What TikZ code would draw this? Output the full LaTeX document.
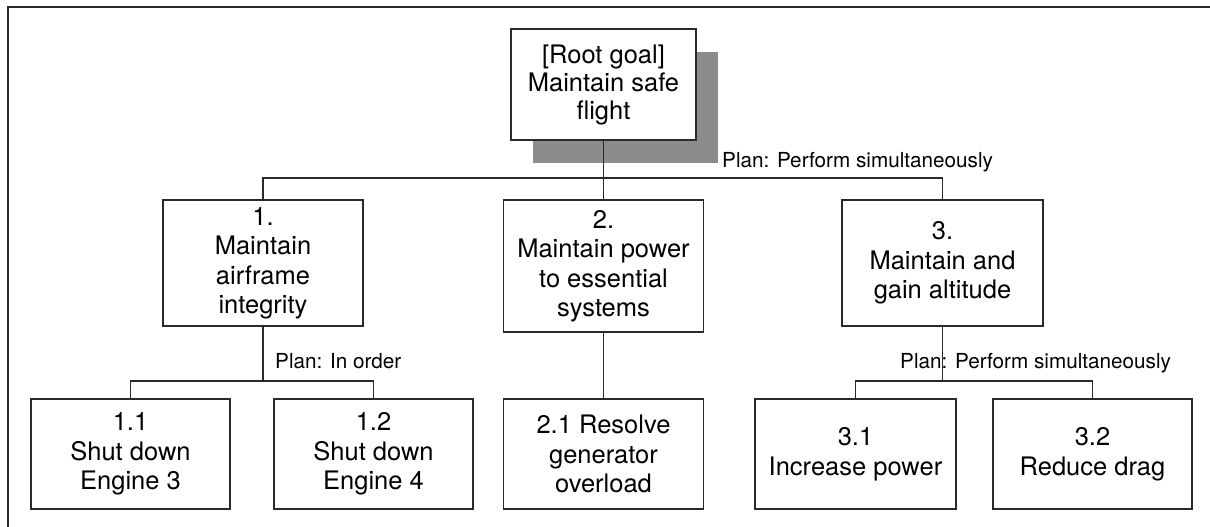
\documentclass[tikz,border=0pt]{standalone}
\usepackage{fontspec}
\setmainfont{TeX Gyre Heros}
\usetikzlibrary{shadows}
\definecolor{shade}{HTML}{8C8C8C}
\definecolor{ink}{HTML}{2A2A2A}
\begin{document}
\begin{tikzpicture}[x=1pt,y=-1pt,
  goal/.style={draw=ink, line width=1.2pt, fill=white, minimum width=200pt,
    minimum height=110pt, align=center, inner sep=2pt,
    font=\fontsize{25.5}{29.5}\selectfont},
  plan/.style={font=\fontsize{20.7}{24}\selectfont, inner sep=0pt, anchor=base west},
  link/.style={draw=ink, line width=1.2pt}]
\useasboundingbox (0,0) rectangle (1210,527);
% frame (only top and left edges visible)
\draw[line width=2.8pt, ink] (8,527) -- (8,7) -- (1210,7);

% root goal with shadow
\node[goal, minimum width=185pt, minimum height=111pt,
  font=\fontsize{25.5}{28}\selectfont,
  drop shadow={shadow xshift=22pt, shadow yshift=-23pt, fill=shade, opacity=1}]
  (root) at (603.5,84.5) {[Root goal]\\Maintain safe\\flight};

% level 1
\node[goal, minimum height=126pt] (g1) at (263,263) {1.\\Maintain\\airframe\\integrity};
\node[goal, minimum height=132pt] (g2) at (603.5,266) {2.\\Maintain power\\to essential\\systems};
\node[goal, minimum width=201pt, minimum height=126pt] (g3) at (942.5,263) {3.\\Maintain and\\gain altitude};

% level 2
\node[goal, minimum width=199pt] (g11) at (130.5,454) {1.1\\Shut down\\Engine 3};
\node[goal, minimum width=199pt] (g12) at (373.5,454) {1.2\\Shut down\\Engine 4};
\node[goal] (g21) at (603.5,454) {2.1 Resolve\\generator\\overload};
\node[goal, minimum width=201pt] (g31) at (855.5,454) {3.1\\Increase power};
\node[goal, minimum width=199pt] (g32) at (1092.5,454) {3.2\\Reduce drag};

% plan labels
\node[plan] (p0) at (722,167) {Plan: Perform simultaneously};
\node[plan] (p1) at (275,368) {Plan: In order};
\node[plan] (p3) at (900,368) {Plan: Perform simultaneously};

% junctions
\coordinate (j0) at (603.5,178);
\coordinate (j1) at (263,381);
\coordinate (j3) at (942.5,381);

% connectors
\draw[link] (root.south) -- (g2.north);
\draw[link] (g1.north) |- (j0) -| (g3.north);
\draw[link] (g1.south) -- (j1);
\draw[link] (g11.north) |- (j1) -| (g12.north);
\draw[link] (g2.south) -- (g21.north);
\draw[link] (g3.south) -- (j3);
\draw[link] (g31.north) |- (j3) -| (g32.north);
\end{tikzpicture}
\end{document}
